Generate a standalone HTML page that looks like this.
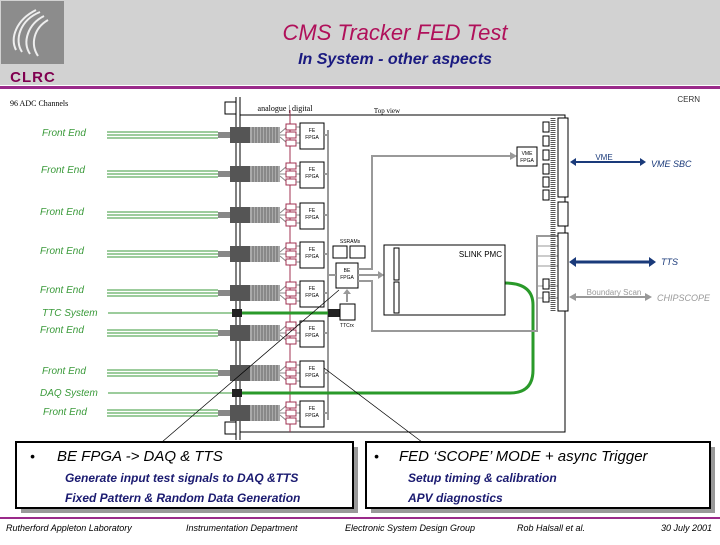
<!DOCTYPE html>
<html><head><meta charset="utf-8"><style>
body{margin:0;width:720px;height:540px;overflow:hidden;background:#fff;font-family:"Liberation Sans",sans-serif}
</style></head><body>
<svg width="720" height="540" viewBox="0 0 720 540" xmlns="http://www.w3.org/2000/svg" font-family="Liberation Sans, sans-serif">
<defs>
<g id="row">
 <line x1="107" y1="-3" x2="218" y2="-3" stroke="#3a9a3a"/>
 <line x1="107" y1="0" x2="218" y2="0" stroke="#3a9a3a"/>
 <line x1="107" y1="3" x2="218" y2="3" stroke="#3a9a3a"/>
 <rect x="218" y="-3" width="13" height="6" fill="#888"/>
 <rect x="230" y="-8" width="20" height="16" fill="#555"/>
 <rect x="250" y="-8" width="30" height="16" fill="#aaa"/>
 <path d="M253 -8V8M256 -8V8M259 -8V8M262 -8V8M265 -8V8M268 -8V8M271 -8V8M274 -8V8M277 -8V8" stroke="#666"/>
 <path d="M280 -2L287 -8M280 0L287 0M280 2L287 8" stroke="#888"/>
 <rect x="286" y="-11" width="10" height="6" fill="#fff" stroke="#a03050"/>
 <rect x="286" y="-3" width="10" height="6" fill="#fff" stroke="#a03050"/>
 <rect x="286" y="5" width="10" height="6" fill="#fff" stroke="#a03050"/>
 <path d="M296 -8L300 -8M296 0L300 0M296 8L300 8" stroke="#888"/>
 <rect x="300" y="-12" width="24" height="26" fill="#fff" stroke="#000"/>
 <line x1="324" y1="0" x2="328" y2="0" stroke="#999" stroke-width="2"/>
</g>
</defs>
<!-- header -->
<rect x="0" y="0" width="720" height="85" fill="#d2d2d2"/>
<rect x="1" y="1" width="63" height="63" fill="#8c8c8c"/>
<path d="M40 12C20 20 14 40 22 52M44 16C28 24 22 42 30 54M48 20C34 28 30 44 38 56M36 10C16 20 10 38 16 50" stroke="#eee" stroke-width="2" fill="none"/>
<text x="33" y="82" font-size="15" font-weight="bold" fill="#800050" text-anchor="middle" letter-spacing="1">CLRC</text>
<rect x="0" y="86" width="720" height="3" fill="#9a2a8a"/>
<text x="395" y="40" font-size="22" font-style="italic" fill="#b0105a" text-anchor="middle">CMS Tracker FED Test</text>
<text x="395" y="64" font-size="16" font-style="italic" font-weight="bold" fill="#1a1a80" text-anchor="middle">In System - other aspects</text>
<!-- labels -->
<text x="10" y="106" font-size="8" font-family="Liberation Serif, serif">96 ADC Channels</text>
<text x="285" y="111" font-size="8" font-family="Liberation Serif, serif" text-anchor="middle">analogue | digital</text>
<text x="387" y="113" font-size="7" font-family="Liberation Serif, serif" text-anchor="middle">Top view</text>
<text x="700" y="102" font-size="8" fill="#333" text-anchor="end">CERN</text>
<!-- board -->
<rect x="240" y="115" width="325" height="317" fill="none" stroke="#000"/>
<line x1="236" y1="97" x2="236" y2="440" stroke="#000"/>
<line x1="240" y1="97" x2="240" y2="440" stroke="#000"/>
<path d="M236 102H225V114H236" fill="none" stroke="#000"/>
<path d="M236 422H225V434H236" fill="none" stroke="#000"/>
<line x1="290" y1="110" x2="290" y2="432" stroke="#a03050"/>
<line x1="328" y1="130" x2="328" y2="420" stroke="#999" stroke-width="2"/>
<use href="#row" y="135"/><use href="#row" y="174"/><use href="#row" y="215"/><use href="#row" y="254"/>
<use href="#row" y="293"/><use href="#row" y="333"/><use href="#row" y="373"/><use href="#row" y="413"/>
<g font-size="5" text-anchor="middle">
<text x="312" y="132">FE</text><text x="312" y="139">FPGA</text>
<text x="312" y="171">FE</text><text x="312" y="178">FPGA</text>
<text x="312" y="212">FE</text><text x="312" y="219">FPGA</text>
<text x="312" y="251">FE</text><text x="312" y="258">FPGA</text>
<text x="312" y="290">FE</text><text x="312" y="297">FPGA</text>
<text x="312" y="330">FE</text><text x="312" y="337">FPGA</text>
<text x="312" y="370">FE</text><text x="312" y="377">FPGA</text>
<text x="312" y="410">FE</text><text x="312" y="417">FPGA</text>
</g>
<g font-size="10" font-style="italic" fill="#3a9a3a">
<text x="42" y="136">Front End</text><text x="41" y="173">Front End</text><text x="40" y="215">Front End</text>
<text x="40" y="254">Front End</text><text x="40" y="293">Front End</text><text x="42" y="316">TTC System</text>
<text x="40" y="333">Front End</text><text x="42" y="374">Front End</text><text x="40" y="396">DAQ System</text>
<text x="43" y="415">Front End</text>
</g>
<!-- TTC & DAQ -->
<line x1="108" y1="313" x2="232" y2="313" stroke="#3a9a3a"/>
<rect x="232" y="309" width="10" height="8" fill="#222"/>
<line x1="242" y1="313" x2="330" y2="313" stroke="#2a9a2a" stroke-width="3"/>
<rect x="328" y="309" width="12" height="8" fill="#222"/>
<rect x="340" y="304" width="15" height="16" fill="#fff" stroke="#000"/>
<text x="347" y="327" font-size="5" text-anchor="middle">TTCrx</text>
<line x1="347" y1="302" x2="347" y2="292" stroke="#999" stroke-width="2"/>
<path d="M343 294L347 289L351 294Z" fill="#999"/>
<line x1="108" y1="393" x2="232" y2="393" stroke="#3a9a3a"/>
<rect x="232" y="389" width="10" height="8" fill="#222"/>
<path d="M242 393H510Q533 393 533 370V305Q533 283 505 283" fill="none" stroke="#2a9a2a" stroke-width="3"/>
<!-- BE area -->
<rect x="333" y="246" width="14" height="12" fill="#fff" stroke="#000"/>
<rect x="350" y="246" width="15" height="12" fill="#fff" stroke="#000"/>
<text x="350" y="243" font-size="5" text-anchor="middle">SSRAMs</text>
<rect x="336" y="263" width="22" height="25" fill="#fff" stroke="#000"/>
<text x="347" y="272" font-size="5" text-anchor="middle">BE</text><text x="347" y="279" font-size="5" text-anchor="middle">FPGA</text>
<line x1="328" y1="275" x2="336" y2="275" stroke="#999" stroke-width="2"/>
<path d="M358 269H372V156H512" fill="none" stroke="#999" stroke-width="2"/>
<path d="M510 152L517 156L510 160Z" fill="#999"/>
<path d="M358 281H372V331H537V236H565" fill="none" stroke="#999" stroke-width="2"/>
<path d="M537 246H565M537 256H565M537 266H565M537 286H565M537 298H565" stroke="#999"/>
<line x1="358" y1="275" x2="380" y2="275" stroke="#999" stroke-width="2"/>
<path d="M378 271L384 275L378 279Z" fill="#999"/>
<rect x="517" y="147" width="20" height="19" fill="#fff" stroke="#000"/>
<text x="527" y="155" font-size="5" text-anchor="middle">VME</text><text x="527" y="162" font-size="5" text-anchor="middle">FPGA</text>
<rect x="384" y="245" width="121" height="70" fill="#fff" stroke="#000"/>
<rect x="394" y="248" width="5" height="32" fill="#fff" stroke="#000"/>
<rect x="394" y="282" width="5" height="31" fill="#fff" stroke="#000"/>
<text x="502" y="257" font-size="8" text-anchor="end">SLINK PMC</text>
<!-- right connectors -->
<g fill="#fff" stroke="#000">
<rect x="543" y="122" width="6" height="10"/><rect x="543" y="136" width="6" height="10"/><rect x="543" y="150" width="6" height="10"/>
<rect x="543" y="164" width="6" height="10"/><rect x="543" y="177" width="6" height="10"/><rect x="543" y="190" width="6" height="10"/>
<rect x="543" y="279" width="6" height="10"/><rect x="543" y="292" width="6" height="10"/>
<rect x="558" y="118" width="10" height="79"/><rect x="558" y="202" width="10" height="24"/><rect x="558" y="233" width="10" height="78"/>
</g>
<path d="M553 118V311" stroke="#555" stroke-width="5" stroke-dasharray="1 1"/>
<line x1="572" y1="162" x2="642" y2="162" stroke="#1a3a7a" stroke-width="2"/>
<path d="M570 162L576 158V166Z M646 162L640 158V166Z" fill="#1a3a7a"/>
<text x="604" y="160" font-size="8" fill="#1a3a7a" text-anchor="middle">VME</text>
<text x="651" y="167" font-size="9" font-style="italic" fill="#1a3a7a">VME SBC</text>
<line x1="572" y1="262" x2="652" y2="262" stroke="#1a3a7a" stroke-width="3"/>
<path d="M569 262L576 257V267Z M656 262L649 257V267Z" fill="#1a3a7a"/>
<text x="661" y="265" font-size="9" font-style="italic" fill="#1a3a7a">TTS</text>
<line x1="572" y1="297" x2="648" y2="297" stroke="#999" stroke-width="2"/>
<path d="M569 297L576 293V301Z M652 297L645 293V301Z" fill="#999"/>
<text x="614" y="295" font-size="8" fill="#999" text-anchor="middle">Boundary Scan</text>
<text x="657" y="301" font-size="9" font-style="italic" fill="#999">CHIPSCOPE</text>
<!-- diagonals -->
<line x1="339" y1="290" x2="162" y2="442" stroke="#000" stroke-width="0.7"/>
<line x1="324" y1="368" x2="422" y2="442" stroke="#000" stroke-width="0.7"/>
<!-- boxes -->
<rect x="21" y="447" width="337" height="66" fill="#999"/>
<rect x="16" y="442" width="337" height="66" fill="#fff" stroke="#000" stroke-width="2"/>
<rect x="371" y="447" width="344" height="66" fill="#999"/>
<rect x="366" y="442" width="344" height="66" fill="#fff" stroke="#000" stroke-width="2"/>
<g font-style="italic">
<text x="30" y="461" font-size="14">•</text>
<text x="57" y="461" font-size="15">BE FPGA -&gt; DAQ &amp; TTS</text>
<text x="65" y="482" font-size="12" font-weight="bold" fill="#1a1a70">Generate input test signals to DAQ &amp;TTS</text>
<text x="65" y="502" font-size="12" font-weight="bold" fill="#1a1a70">Fixed Pattern &amp; Random Data Generation</text>
<text x="374" y="461" font-size="14">•</text>
<text x="399" y="461" font-size="15">FED ‘SCOPE’ MODE + async Trigger</text>
<text x="408" y="482" font-size="12" font-weight="bold" fill="#1a1a70">Setup timing &amp; calibration</text>
<text x="408" y="502" font-size="12" font-weight="bold" fill="#1a1a70">APV diagnostics</text>
</g>
<rect x="0" y="517" width="720" height="2" fill="#9a2a8a"/>
<g font-size="9" font-style="italic">
<text x="6" y="531">Rutherford Appleton Laboratory</text>
<text x="186" y="531">Instrumentation Department</text>
<text x="345" y="531">Electronic System Design Group</text>
<text x="517" y="531">Rob Halsall et al.</text>
<text x="712" y="531" text-anchor="end">30 July 2001</text>
</g>
</svg>
</body></html>
